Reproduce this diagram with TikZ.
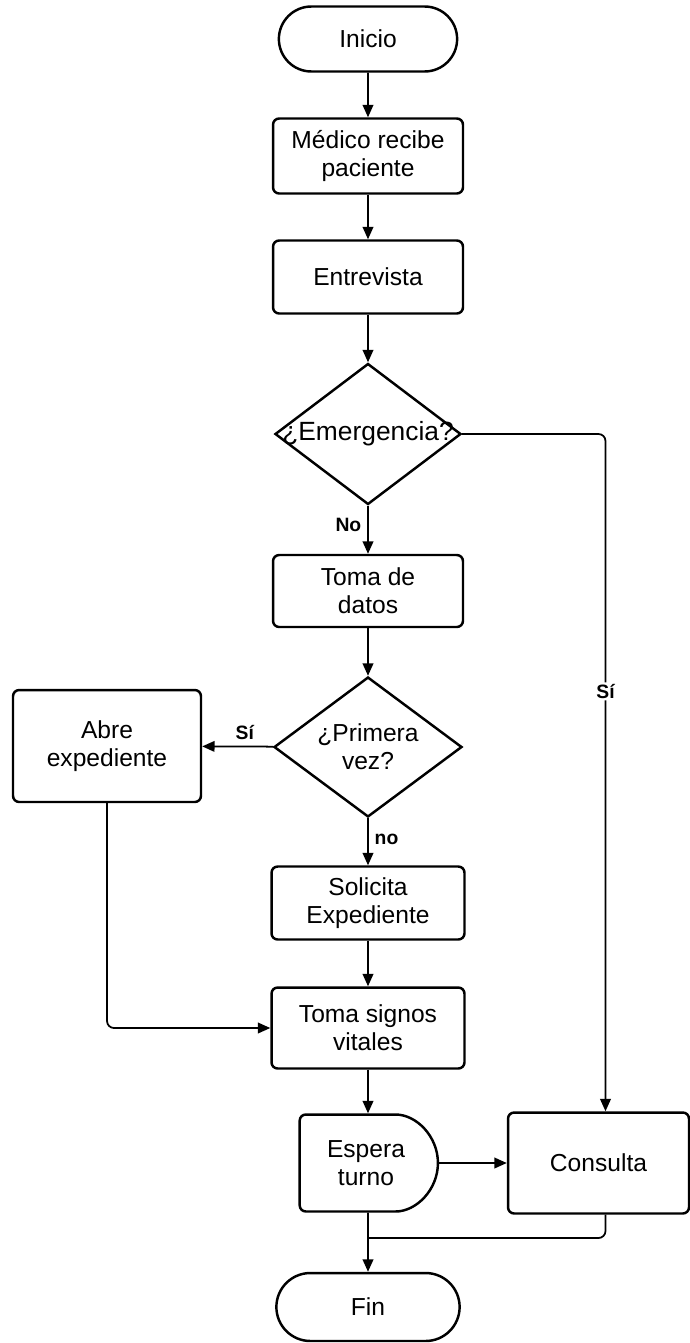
\documentclass[tikz,border=0pt]{standalone}
\usepackage{fontspec}
\setmainfont{Liberation Sans}
\usetikzlibrary{shapes.geometric, shapes.misc, arrows.meta, positioning}

\begin{document}
\begin{tikzpicture}[x=0.02cm, y=-0.02cm,
        font=\fontsize{14}{16}\selectfont,
        proceso/.style={draw, rectangle, rounded corners=3.5pt, line width=1.4pt, align=center, minimum width=3.8cm, inner sep=2pt},
        terminal/.style={draw, rounded rectangle, line width=1.4pt, minimum width=3.8cm, minimum height=1.3cm},
        decisao/.style={draw, diamond, aspect=1.33, line width=1.4pt, align=center, inner sep=0pt, minimum width=3.76cm, minimum height=2.8cm},
        flecha/.style={-{Triangle[length=7pt,width=6pt]}, line width=1pt},
        rotulo/.style={font=\fontsize{11}{13}\selectfont\bfseries}]
        \useasboundingbox (0,0) rectangle (690,1343);

        % Coluna principal
        \node[terminal] (inicio) at (368,39) {Inicio};
        \node[proceso, minimum height=1.5cm] (medico) at (368,156) {Médico recibe\\paciente};
        \node[proceso, minimum height=1.46cm] (entrevista) at (368,277) {Entrevista};
        \node[decisao, minimum width=3.72cm, minimum height=2.82cm, font=\fontsize{15}{17}\selectfont] (emergencia) at (368,434) {\makebox[2.4cm]{¿Emergencia?}};
        \node[proceso, minimum height=1.44cm] (datos) at (368,591) {Toma de\\datos};
        \node[decisao] (primera) at (368,747) {¿Primera\\vez?};
        \node[proceso, minimum width=3.76cm, minimum height=2.24cm] (abre) at (107,746) {Abre\\expediente};
        \node[proceso, minimum width=3.86cm, minimum height=1.46cm] (solicita) at (368,903) {Solicita\\Expediente};
        \node[proceso, minimum width=3.86cm, minimum height=1.62cm] (signos) at (368,1028) {Toma signos\\vitales};

        % Espera e consulta
        \node[draw, rounded rectangle, rounded rectangle left arc=none, rounded corners=3.5pt, line width=1.4pt, align=center, minimum width=3.0cm, minimum height=1.94cm] (espera) at (366,1163) {Espera\\turno};
        \node[proceso, minimum width=3.62cm, minimum height=2.02cm] (consulta) at (598.5,1163) {Consulta};
        \node[terminal, minimum width=3.9cm, minimum height=1.36cm] (fin) at (368,1307) {Fin};
        \coordinate (juncao) at (368,1238);

        % Conectores
        \draw[flecha] (inicio) -- (medico);
        \draw[flecha] (medico) -- (entrevista);
        \draw[flecha] (entrevista) -- (emergencia);
        \draw[flecha] (emergencia) -- node[rotulo, left, pos=0.4]{No} (datos);
        \draw[flecha, rounded corners=4pt] (emergencia.east) -| node[rotulo, fill=white, inner sep=1pt, pos=0.69]{Sí} ([xshift=0.14cm]consulta.north);
        \draw[flecha] (datos) -- (primera);
        \draw[flecha] (primera) -- node[rotulo, above, pos=0.4]{Sí} (abre);
        \draw[flecha] (primera) -- node[rotulo, right, pos=0.46]{no} (solicita);
        \draw[flecha] (solicita) -- (signos);
        \draw[flecha, rounded corners=4pt] (abre) |- (signos);
        \draw[flecha] (signos) -- (signos |- espera.north);
        \draw[flecha] (espera) -- (consulta);
        \draw[flecha] (signos |- espera.south) -- (fin);
        \draw[line width=1pt, rounded corners=4pt] ([xshift=0.14cm]consulta.south) |- (juncao);
    \end{tikzpicture}
\end{document}
